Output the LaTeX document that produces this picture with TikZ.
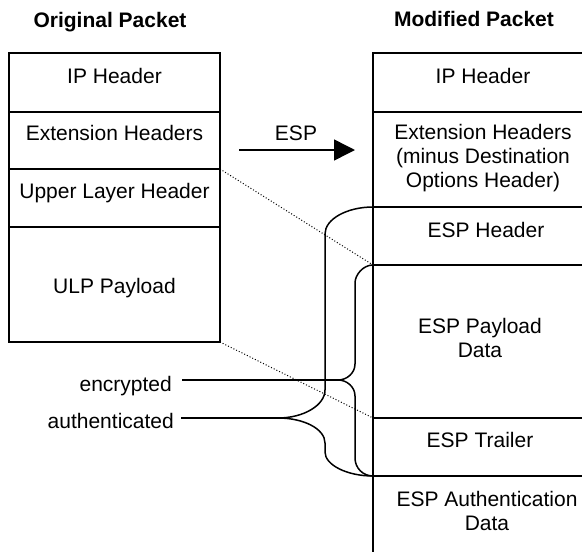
\documentclass[tikz,border=0pt]{standalone}
\usepackage{fontspec}
\setmainfont{Liberation Sans}
\usetikzlibrary{arrows.meta}
\tikzset{
  txt/.style={anchor=base,inner sep=0pt,font=\fontsize{21}{24}\selectfont,align=center},
  ttl/.style={txt,font=\fontsize{21}{24}\selectfont\bfseries},
  pkt/.style={line width=2pt},
  brc/.style={line width=1.5pt},
  dots/.style={line width=1pt,dash pattern=on 1pt off 2pt},
}
\begin{document}
\begin{tikzpicture}[x=1pt,y=-1pt]
\useasboundingbox (0,0) rectangle (582,552);

% original packet
\node[ttl] (origttl) at (110,27) {Original Packet};
\draw[pkt] (9,53) rectangle (220,342);
\draw[pkt] (9,112) -- (220,112);
\draw[pkt] (9,169) -- (220,169);
\draw[pkt] (9,227) -- (220,227);
\node[txt] (origip) at (114.5,83) {IP Header};
\node[txt] (origext) at (114.5,140) {Extension Headers};
\node[txt] (origulh) at (114.5,198) {Upper Layer Header};
\node[txt] (origulp) at (114.5,293) {ULP Payload};
\coordinate (ulhtop) at (220,169);
\coordinate (ulpbot) at (220,342);

% arrow
\node[txt] (esplbl) at (296,140) {ESP};
\coordinate (arrfrom) at (239,150);
\coordinate (arrto) at (355,150);
\draw[line width=1.5pt,-{Triangle[length=21pt,width=21pt]}] (arrfrom) -- (arrto);

% modified packet
\node[ttl] (modttl) at (474,26) {Modified Packet};
\draw[pkt] (582,53) -- (373,53) -- (373,552);
\foreach \y in {112,207,265,418,476}
  \draw[pkt] (373,\y) -- (582,\y);
\node[txt] (modip) at (483,83) {IP Header};
\node[txt] (modext) at (483,187) {Extension Headers\\(minus Destination\\Options Header)};
\node[txt] (esphdr) at (486,237) {ESP Header};
\node[txt] (esppay) at (480,357) {ESP Payload\\Data};
\node[txt] (esptrl) at (480,447) {ESP Trailer};
\node[txt] (espauth) at (487,530) {ESP Authentication\\Data};
\coordinate (paytop) at (373,265);
\coordinate (trltop) at (373,418);

\draw[dots] (ulhtop) -- (paytop);
\draw[dots] (ulpbot) -- (trltop);

% braces
\draw[brc] (373,265) .. controls (363,265) and (355,275) .. (355,283) -- (355,364)
  .. controls (355,373) and (347,380) .. (338,380)
  .. controls (347,380) and (355,387) .. (355,396) -- (355,458)
  .. controls (355,468) and (363,476) .. (373,476);
\draw[brc] (373,207) .. controls (347,207) and (325,219) .. (325,234) -- (325,390)
  .. controls (325,405) and (304,418) .. (278,418)
  .. controls (304,418) and (325,429) .. (325,443) -- (325,452)
  .. controls (325,465) and (347,476) .. (373,476);

\node[txt,anchor=base east] (enc) at (172,391) {encrypted};
\node[txt,anchor=base east] (auth) at (174,428) {authenticated};
\coordinate (enctip) at (338,380);
\coordinate (authtip) at (278,418);
\draw[brc] (enc.east |- enctip) ++(10,0) -- (enctip);
\draw[brc] (auth.east |- authtip) ++(7,0) -- (authtip);

\end{tikzpicture}
\end{document}
